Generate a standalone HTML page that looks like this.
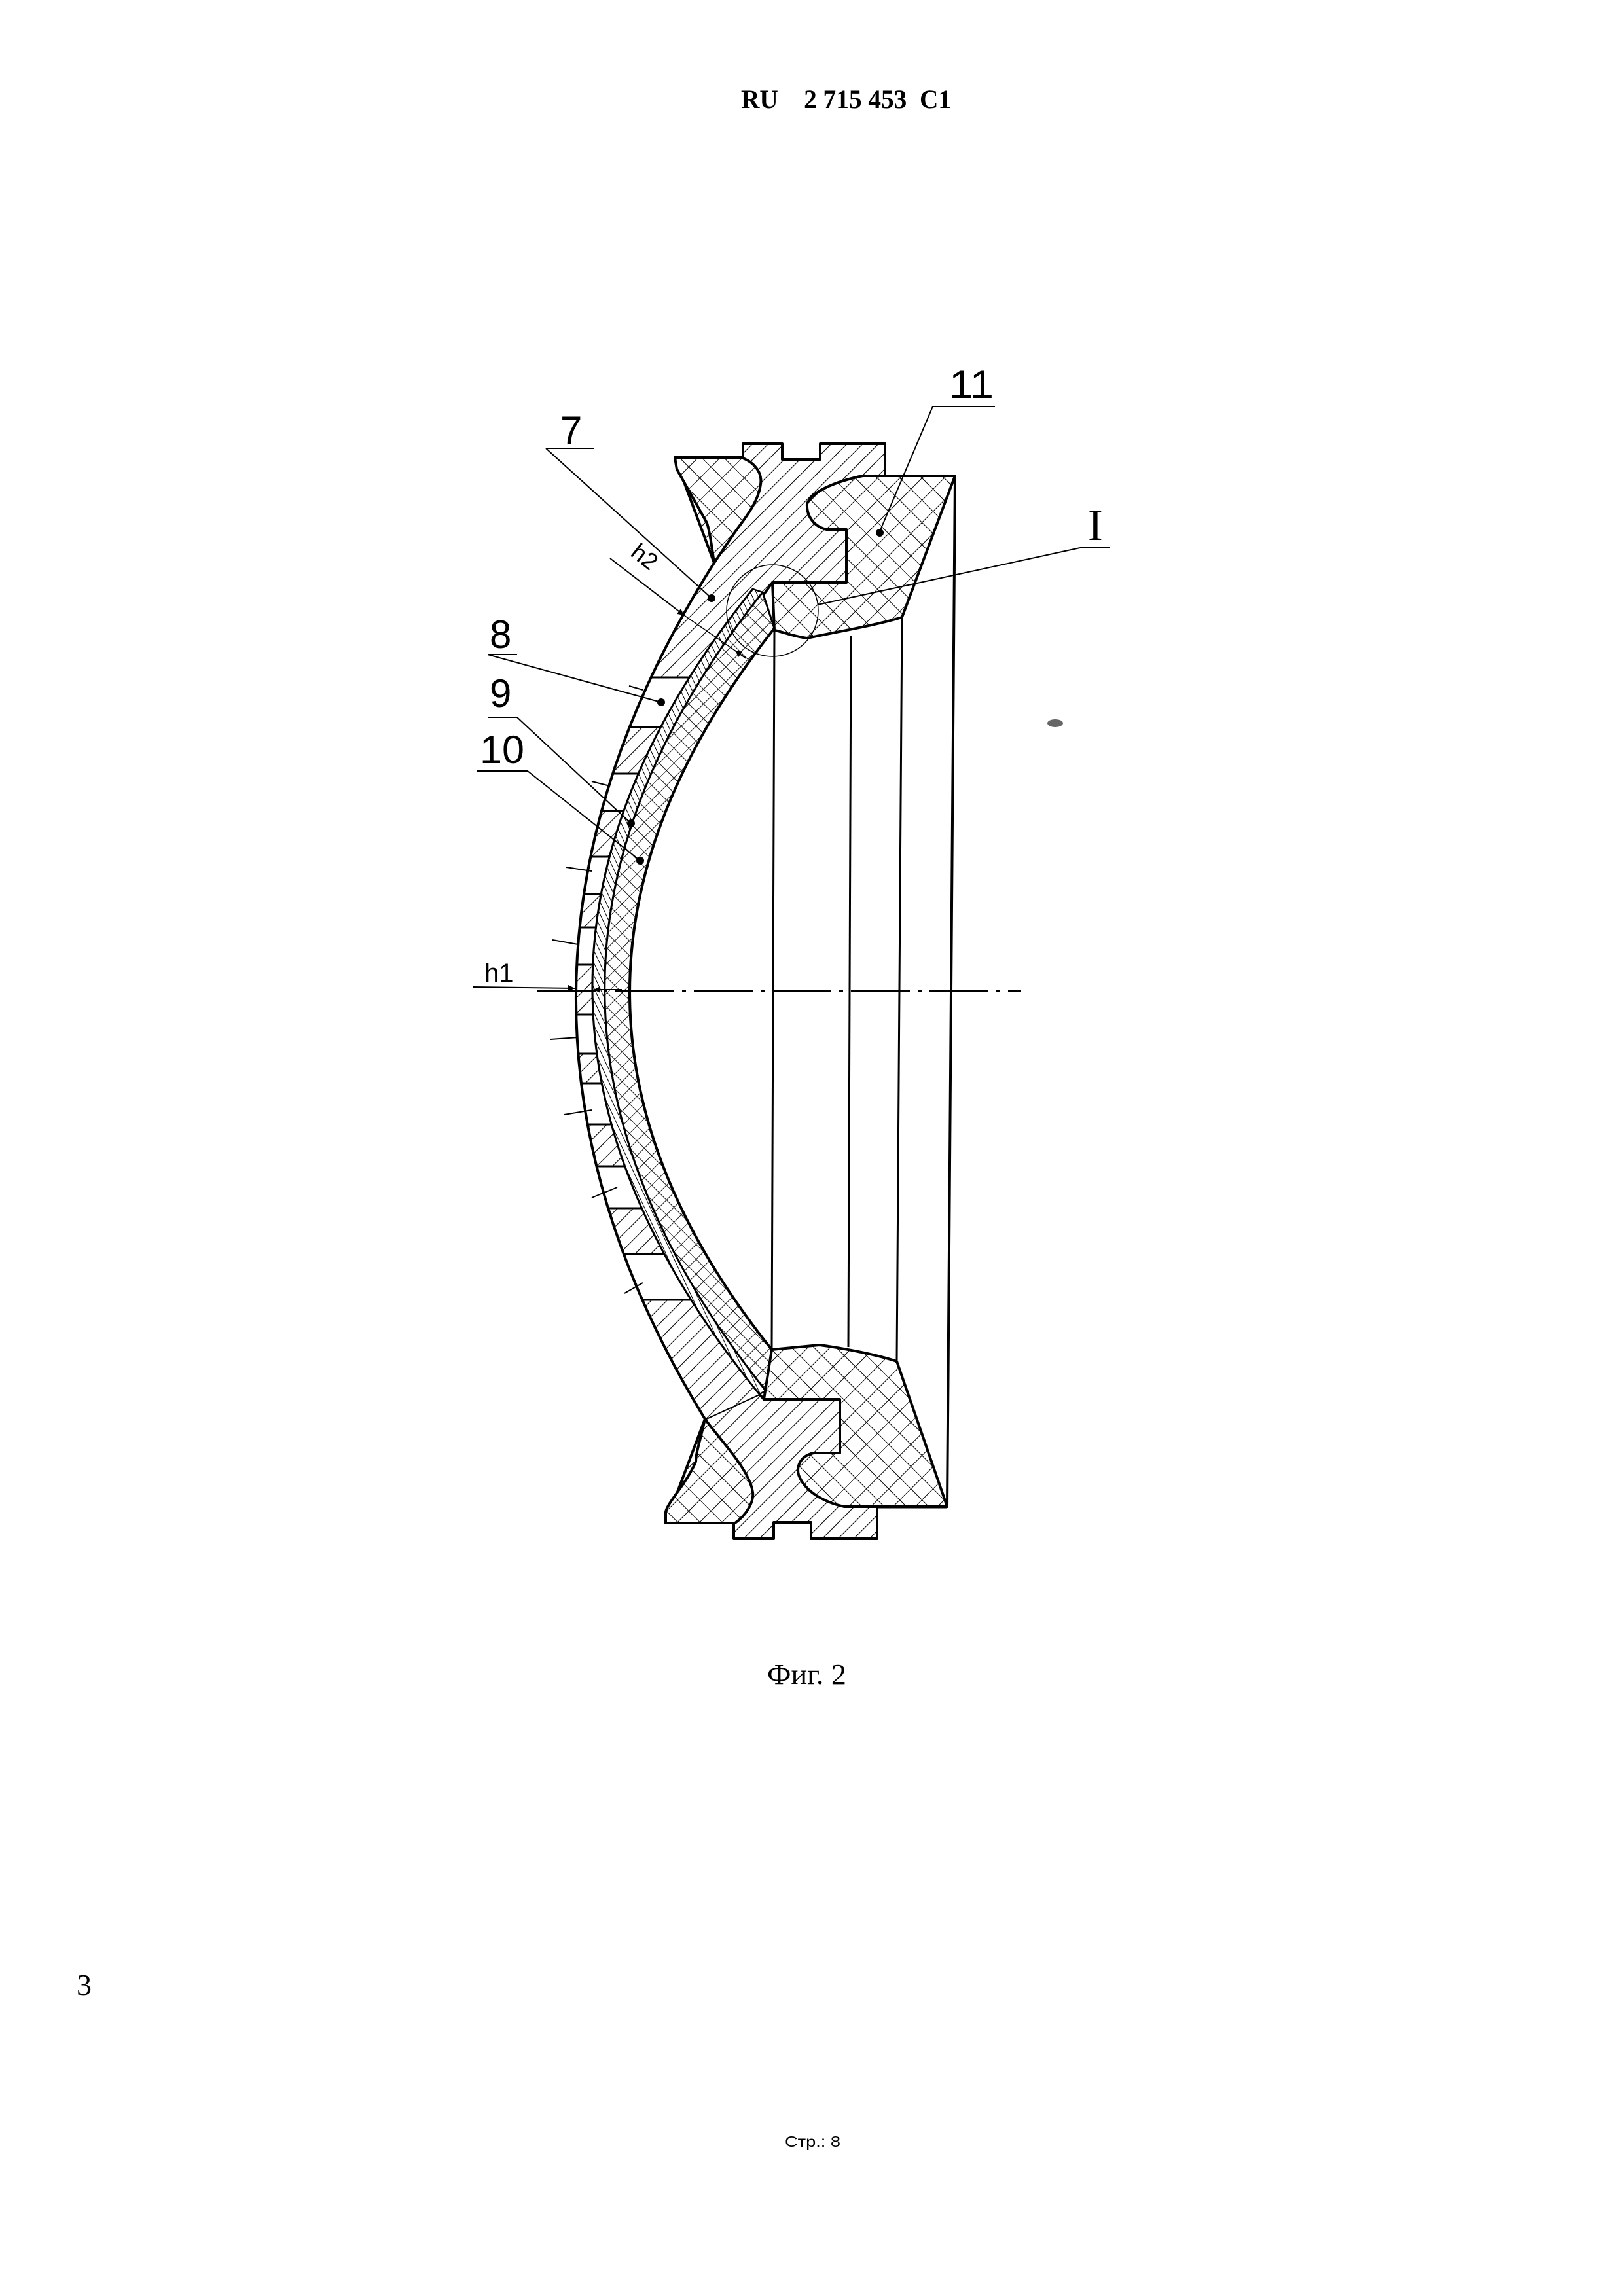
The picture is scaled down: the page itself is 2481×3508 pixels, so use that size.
<!DOCTYPE html>
<html><head><meta charset="utf-8"><style>
html,body{margin:0;padding:0;background:#fff}
svg{display:block}
</style></head><body>
<svg width="2481" height="3508" viewBox="0 0 2481 3508" xmlns="http://www.w3.org/2000/svg">
<defs>
<pattern id="hatch" patternUnits="userSpaceOnUse" width="17" height="17" patternTransform="rotate(45)">
<rect width="17" height="17" fill="#fff"/><line x1="0" y1="0" x2="0" y2="17" stroke="#000" stroke-width="2.2"/></pattern>
<pattern id="hatch9" patternUnits="userSpaceOnUse" width="8" height="8" patternTransform="rotate(-25)">
<rect width="8" height="8" fill="#fff"/><line x1="0" y1="0" x2="0" y2="8" stroke="#000" stroke-width="2"/></pattern>
<pattern id="cross" patternUnits="userSpaceOnUse" width="24" height="24" patternTransform="rotate(45)">
<rect width="24" height="24" fill="#fff"/><line x1="0" y1="0" x2="0" y2="24" stroke="#000" stroke-width="2"/><line x1="0" y1="0" x2="24" y2="0" stroke="#000" stroke-width="2"/></pattern>
<pattern id="cross10" patternUnits="userSpaceOnUse" width="16" height="16" patternTransform="rotate(45)">
<rect width="16" height="16" fill="#fff"/><line x1="0" y1="0" x2="0" y2="16" stroke="#000" stroke-width="1.8"/><line x1="0" y1="0" x2="16" y2="0" stroke="#000" stroke-width="1.8"/></pattern>
<clipPath id="shellclip"><path d="M1091,860 Q676,1514 1077,2168 L1160,2130 Q655,1513 1150,900 Z"/></clipPath>
<marker id="arr" viewBox="0 0 10 10" refX="10" refY="5" markerWidth="14" markerHeight="10" orient="auto" markerUnits="userSpaceOnUse"><path d="M0,0 L10,5 L0,10 Z" fill="#000"/></marker>
</defs>

<!-- header / footer text -->
<text x="1132" y="165" font-family="Liberation Serif, serif" font-weight="bold" font-size="40" textLength="321" lengthAdjust="spacingAndGlyphs" xml:space="preserve">RU    2 715 453  C1</text>
<text x="1172" y="2573" font-family="Liberation Serif, serif" font-size="44" textLength="121" lengthAdjust="spacingAndGlyphs">Фиг. 2</text>
<text x="117" y="3048" font-family="Liberation Serif, serif" font-size="46">3</text>
<text x="1199" y="3280" font-family="Liberation Sans, sans-serif" font-size="23" textLength="85" lengthAdjust="spacingAndGlyphs">Стр.: 8</text>

<!-- vertical lines -->
<g stroke="#000" stroke-width="3" fill="none">
<line x1="1183" y1="963" x2="1179" y2="2062"/>
<line x1="1300" y1="972" x2="1296" y2="2058"/>
<line x1="1378" y1="943" x2="1370" y2="2080"/>
<line x1="1459" y1="727" x2="1447" y2="2302" stroke-width="4"/>
</g>

<!-- body 7 top -->
<path d="M1031,699 H1135 V678 H1195 V702 H1253 V678 H1352 V727 H1318 C1280,735 1240,750 1233,770 C1232,790 1245,805 1263,809 H1293 V890 H1180 L1100,1000 L1003,1032 L1091,860 Z" fill="url(#hatch)" stroke="#000" stroke-width="4" stroke-linejoin="round"/>
<!-- body 7 bottom -->
<path d="M1077,2168 L1160,2130 L1167,2138 H1283 V2220 L1290,2302 H1340 V2351 H1239 V2326 H1182 V2351 H1121 V2327 H1017 Z" fill="url(#hatch)" stroke="#000" stroke-width="4" stroke-linejoin="round"/>

<!-- shell band (8) -->
<path d="M1091,860 Q676,1514 1077,2168 L1160,2130 Q655,1513 1150,900 Z" fill="url(#hatch)" stroke="none"/>
<g clip-path="url(#shellclip)" fill="#fff" stroke="#000" stroke-width="3">
<rect x="850" y="1035" width="320" height="76"/>
<rect x="850" y="1182" width="320" height="57"/>
<rect x="850" y="1309" width="320" height="57"/>
<rect x="850" y="1417" width="320" height="57"/>
<rect x="850" y="1550" width="320" height="60"/>
<rect x="850" y="1655" width="320" height="63"/>
<rect x="850" y="1782" width="320" height="64"/>
<rect x="850" y="1916" width="320" height="70"/>
</g>
<!-- layer 9 -->
<path d="M1150,900 Q655,1513 1160,2130 L1170,2125 Q680,1513 1165,905 Z" fill="url(#hatch9)" stroke="#000" stroke-width="2.5"/>
<!-- layer 10 -->
<path d="M1165,905 Q680,1513 1170,2125 L1179,2062 Q743,1517 1183,960 Z" fill="url(#cross10)" stroke="#000" stroke-width="3"/>
<!-- shell outlines -->
<path d="M1091,860 Q676,1514 1077,2168" fill="none" stroke="#000" stroke-width="4"/>
<path d="M1150,900 Q655,1513 1160,2130" fill="none" stroke="#000" stroke-width="3"/>
<path d="M1183,960 Q743,1517 1179,2062" fill="none" stroke="#000" stroke-width="4"/>

<!-- wedges -->
<path d="M1031,699 H1132 C1150,705 1165,720 1162,740 C1158,770 1135,795 1120,817 L1091,860 C1088,840 1085,815 1080,799 L1034,717 Z" fill="url(#cross)" stroke="#000" stroke-width="4" stroke-linejoin="round"/>
<path d="M1077,2168 C1070,2200 1063,2220 1063,2233 C1050,2265 1020,2295 1017,2310 V2327 H1123 C1140,2315 1152,2295 1150,2280 C1145,2245 1100,2200 1077,2168 Z" fill="url(#cross)" stroke="#000" stroke-width="4" stroke-linejoin="round"/>

<!-- piece 11 top -->
<path d="M1318,727 H1459 L1378,943 C1340,955 1280,965 1233,975 C1210,972 1195,965 1183,963 L1180,890 H1293 V809 H1263 C1245,805 1232,790 1233,770 C1240,750 1280,735 1318,727 Z" fill="url(#cross)" stroke="#000" stroke-width="4" stroke-linejoin="round"/>
<!-- piece 11 bottom -->
<path d="M1447,2302 L1370,2080 C1340,2070 1290,2060 1252,2055 L1179,2062 L1167,2138 H1283 V2220 H1243 C1220,2225 1215,2245 1222,2258 C1235,2285 1270,2298 1290,2302 Z" fill="url(#cross)" stroke="#000" stroke-width="4" stroke-linejoin="round"/>
<line x1="1340" y1="2302" x2="1447" y2="2302" stroke="#000" stroke-width="5"/>

<!-- detail circle I -->
<circle cx="1180" cy="933" r="70" fill="none" stroke="#000" stroke-width="1.5"/>

<!-- centerline -->
<line x1="820" y1="1514" x2="1560" y2="1514" stroke="#000" stroke-width="2" stroke-dasharray="90,12,6,12"/>

<!-- h1 -->
<text x="740" y="1500" font-family="Liberation Sans, sans-serif" font-size="40">h1</text>
<line x1="723" y1="1508" x2="878" y2="1510" stroke="#000" stroke-width="2" marker-end="url(#arr)"/>
<line x1="950" y1="1512" x2="907" y2="1512" stroke="#000" stroke-width="2" marker-end="url(#arr)"/>

<!-- h2 -->
<text x="958" y="862" font-family="Liberation Sans, sans-serif" font-size="36" transform="rotate(38 980 860)">h2</text>
<line x1="932" y1="853" x2="1045" y2="940" stroke="#000" stroke-width="2" marker-end="url(#arr)"/>
<line x1="1045" y1="940" x2="1123" y2="994" stroke="#000" stroke-width="1.5"/>
<line x1="1140" y1="1006" x2="1123" y2="994" stroke="#000" stroke-width="2" marker-end="url(#arr)"/>

<!-- labels -->
<g font-family="Liberation Sans, sans-serif" font-size="60" fill="#000">
<text x="1450" y="608" textLength="68" lengthAdjust="spacingAndGlyphs">11</text>
<text x="856" y="678">7</text>
<text x="748" y="990">8</text>
<text x="748" y="1080">9</text>
<text x="733" y="1166" textLength="68" lengthAdjust="spacingAndGlyphs">10</text>
</g>
<text x="1662" y="825" font-family="Liberation Serif, serif" font-size="68">I</text>
<g stroke="#000" stroke-width="2" fill="none">
<polyline points="1425,621 1520,621"/><line x1="1425" y1="621" x2="1344" y2="812"/>
<polyline points="834,685 908,685"/><line x1="834" y1="685" x2="1087" y2="914"/>
<polyline points="1650,837 1695,837"/><line x1="1650" y1="837" x2="1249" y2="924"/>
<polyline points="745,1000 790,1000"/><line x1="745" y1="1000" x2="1010" y2="1073"/>
<polyline points="745,1096 790,1096"/><line x1="790" y1="1096" x2="964" y2="1258"/>
<polyline points="728,1178 806,1178"/><line x1="806" y1="1178" x2="978" y2="1315"/>
<line x1="961" y1="1048" x2="982" y2="1054"/>
<line x1="904" y1="1194" x2="932" y2="1201"/>
<line x1="865" y1="1325" x2="904" y2="1331"/>
<line x1="844" y1="1436" x2="883" y2="1443"/>
<line x1="841" y1="1588" x2="883" y2="1585"/>
<line x1="862" y1="1703" x2="904" y2="1696"/>
<line x1="904" y1="1830" x2="943" y2="1814"/>
<line x1="954" y1="1976" x2="982" y2="1960"/>
</g>
<g fill="#000">
<circle cx="1344" cy="814" r="6"/><circle cx="1087" cy="914" r="6"/><circle cx="1010" cy="1073" r="6"/>
<circle cx="964" cy="1258" r="6"/><circle cx="978" cy="1315" r="6"/>
</g>
<ellipse cx="1612" cy="1105" rx="12" ry="6" fill="#666"/>
</svg>
</body></html>
